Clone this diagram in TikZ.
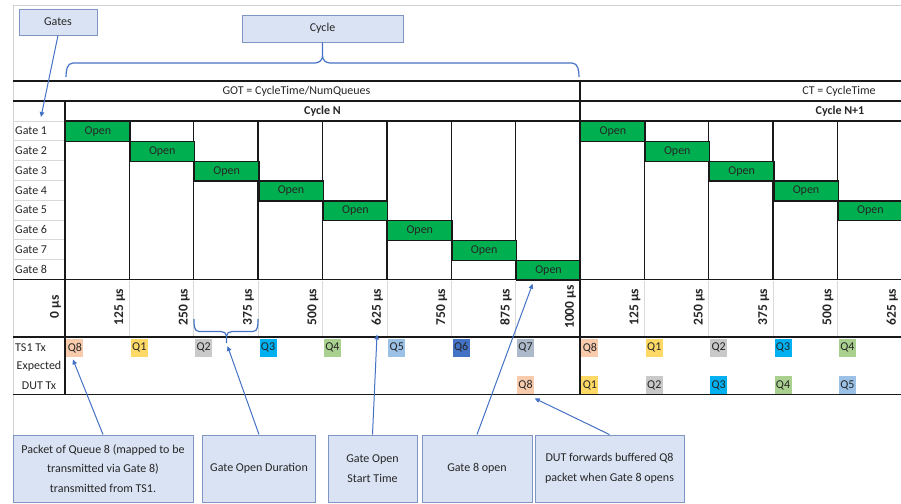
\documentclass[tikz,border=0pt]{standalone}
\usepackage{fontspec}
\setmainfont{Carlito}
\usetikzlibrary{arrows.meta,calc}
\definecolor{openGreen}{RGB}{0,176,80}
\definecolor{callFill}{RGB}{218,227,243}
\definecolor{callDraw}{RGB}{127,150,196}
\definecolor{arrowBlue}{RGB}{68,114,196}
\definecolor{gridGray}{RGB}{217,217,217}
\definecolor{sheetGray}{RGB}{210,210,210}
\definecolor{qEight}{RGB}{248,203,173}
\definecolor{qOne}{RGB}{255,217,102}
\definecolor{qTwo}{RGB}{201,201,201}
\definecolor{qThree}{RGB}{0,176,240}
\definecolor{qFour}{RGB}{169,208,142}
\definecolor{qFive}{RGB}{155,194,230}
\definecolor{qSix}{RGB}{68,114,196}
\definecolor{qSeven}{RGB}{172,185,202}
\begin{document}
\begin{tikzpicture}[x=1pt,y=-1pt,
  every node/.style={font=\fontsize{12}{14}\selectfont, inner sep=0pt, text=black!85},
  bline/.style={line width=1.4pt, black!90},
  gline/.style={line width=0.7pt, gridGray},
  openbox/.style={draw=black!90, line width=1.4pt, fill=openGreen, minimum width=64.375pt, minimum height=19.8pt, anchor=north west},
  qbox/.style={minimum width=17pt, minimum height=18pt, anchor=north west},
  tlabel/.style={rotate=90, font=\fontsize{13.5}{15}\selectfont\bfseries},
  callout/.style={draw=callDraw, fill=callFill, line width=0.9pt, align=center, font=\fontsize{12}{19.5}\selectfont},
  conn/.style={draw=arrowBlue, line width=1pt, -{Triangle[length=5pt,width=4.5pt]}},
  bracestyle/.style={draw=arrowBlue, line width=1.2pt}
]
\useasboundingbox (0,0) rectangle (901,503);
\clip (0,0) rectangle (901,503);

% sheet border
\draw[sheetGray, line width=0.8pt] (13,5) -- (901,5);
\draw[sheetGray, line width=0.8pt] (13,5) -- (13,503);

% header texts
\node (got) at (296.5,91) {GOT = CycleTime/NumQueues};
\node (ct) at (839,91) {CT = CycleTime};
\node[font=\fontsize{12}{14}\selectfont\bfseries] (cyclen) at (322.5,111) {Cycle N};
\node[font=\fontsize{12}{14}\selectfont\bfseries] (cyclen1) at (840,111) {Cycle N+1};

% gate labels and grey row lines
\foreach \g in {1,...,8} {
  \pgfmathsetmacro\yy{121+(\g-1)*19.8}
  \draw[gline] (13,\yy) -- (65,\yy);
  \node[anchor=west] (gate\g) at (15,\yy+9.9) {Gate \g};
}

% thick verticals in gate area
\foreach \k in {1,2,3,4,5,6,7,9,10,11,12} {
  \pgfmathsetmacro\xx{65+\k*64.375}
  \draw[bline] (\xx,121) -- (\xx,279.4);
}

% open boxes
\foreach \c/\g in {1/1,2/2,3/3,4/4,5/5,6/6,7/7,8/8,9/1,10/2,11/3,12/4,13/5} {
  \pgfmathsetmacro\xx{65+(\c-1)*64.375}
  \pgfmathsetmacro\yy{121+(\g-1)*19.8}
  \node[openbox] (open\c) at (\xx,\yy) {Open};
}

% time row grey verticals
\foreach \k in {1,2,3,4,5,6,7,9,10,11,12,13} {
  \pgfmathsetmacro\xx{65+\k*64.375}
  \draw[gline] (\xx,280.5) -- (\xx,336.5);
}

% time labels
\foreach \k/\lab in {0/0,1/125,2/250,3/375,4/500,5/625,6/750,7/875,8/1000,9/125,10/250,11/375,12/500,13/625} {
  \pgfmathsetmacro\xx{65+\k*64.375-9.5}
  \node[tlabel] (time\k) at (\xx,307) {\lab\ µs};
}

% row labels
\node[anchor=west] (ts1tx) at (15,347.5) {TS1 Tx};
\node (expected) at (39,366.5) {Expected};
\node (duttx) at (39,385.5) {DUT Tx};

% TS1 Tx queue boxes
\foreach \c/\q/\col in {1/8/qEight,2/1/qOne,3/2/qTwo,4/3/qThree,5/4/qFour,6/5/qFive,7/6/qSix,8/7/qSeven,9/8/qEight,10/1/qOne,11/2/qTwo,12/3/qThree,13/4/qFour} {
  \pgfmathsetmacro\xx{65+(\c-1)*64.375+1.2}
  \node[qbox, fill=\col] (ts\c) at (\xx,338.5) {Q\q};
}
% DUT Tx queue boxes
\foreach \c/\q/\col in {8/8/qEight,9/1/qOne,10/2/qTwo,11/3/qThree,12/4/qFour,13/5/qFive} {
  \pgfmathsetmacro\xx{65+(\c-1)*64.375+1.2}
  \node[qbox, fill=\col] (dut\c) at (\xx,376) {Q\q};
}

% thick table lines
\draw[bline] (13,81) -- (901,81);
\draw[bline] (13,101) -- (901,101);
\draw[bline] (65,121) -- (901,121);
\draw[bline] (13,279.5) -- (901,279.5);
\draw[bline] (13,337) -- (901,337);
\draw[bline] (13,394.5) -- (901,394.5);
\draw[bline] (65,101) -- (65,394.5);
\draw[bline] (580,81) -- (580,394.5);

% top callouts
\node[callout, minimum width=78pt, minimum height=26pt] (gates) at (58,22) {Gates};
\node[callout, minimum width=161pt, minimum height=27pt] (cycle) at (322.5,28.5) {Cycle};
\coordinate (gatesTip) at (41,117);
\draw[conn] (gates.south) -- (gatesTip);

% cycle brace
\draw[bracestyle] (66,77) to[out=90,in=180] (73,63) -- (315,63) to[out=0,in=-90] (322.5,56) -- (cycle.south);
\draw[bracestyle] (322.5,56) to[out=-90,in=180] (330,63) -- (572,63) to[out=0,in=90] (579,77);

% duration brace
\draw[bracestyle] (194,319) to[out=-90,in=180] (199,331.5) -- (221,331.5) to[out=0,in=90] (226.5,336) -- (226.5,343);
\draw[bracestyle] (226.5,336) to[out=90,in=180] (232,331.5) -- (253,331.5) to[out=0,in=-90] (258,319);
\coordinate (braceTip) at (227.5,346);

% bottom callouts
\node[callout, minimum width=180pt, minimum height=67pt] (c1) at (103,468.5) {Packet of Queue 8 (mapped to be\\transmitted via Gate 8)\\transmitted from TS1.};
\node[callout, minimum width=113pt, minimum height=67pt] (c2) at (259,468.5) {Gate Open Duration};
\node[callout, minimum width=89pt, minimum height=67pt] (c3) at (372.5,468.5) {Gate Open\\Start Time};
\node[callout, minimum width=110pt, minimum height=67pt] (c4) at (477,468.5) {Gate 8 open};
\node[callout, minimum width=149pt, minimum height=67pt] (c5) at (609.5,468.5) {DUT forwards buffered Q8\\packet when Gate 8 opens};

% connectors
\coordinate (q8Tip) at ($(ts1.south)+(-2,2.5)$);
\coordinate (startTip) at (377,334.5);
\coordinate (g8Tip) at ($(open8.south west)+(17,3)$);
\coordinate (dutTip) at ($(dut8.south east)+(0.5,4)$);
\draw[conn] (c1.north) -- (q8Tip);
\draw[conn] (c2.north) -- (braceTip);
\draw[conn] (c3.north) -- (startTip);
\draw[conn] (c4.north) -- (g8Tip);
\draw[conn] (c5.north) -- (dutTip);
\end{tikzpicture}
\end{document}
